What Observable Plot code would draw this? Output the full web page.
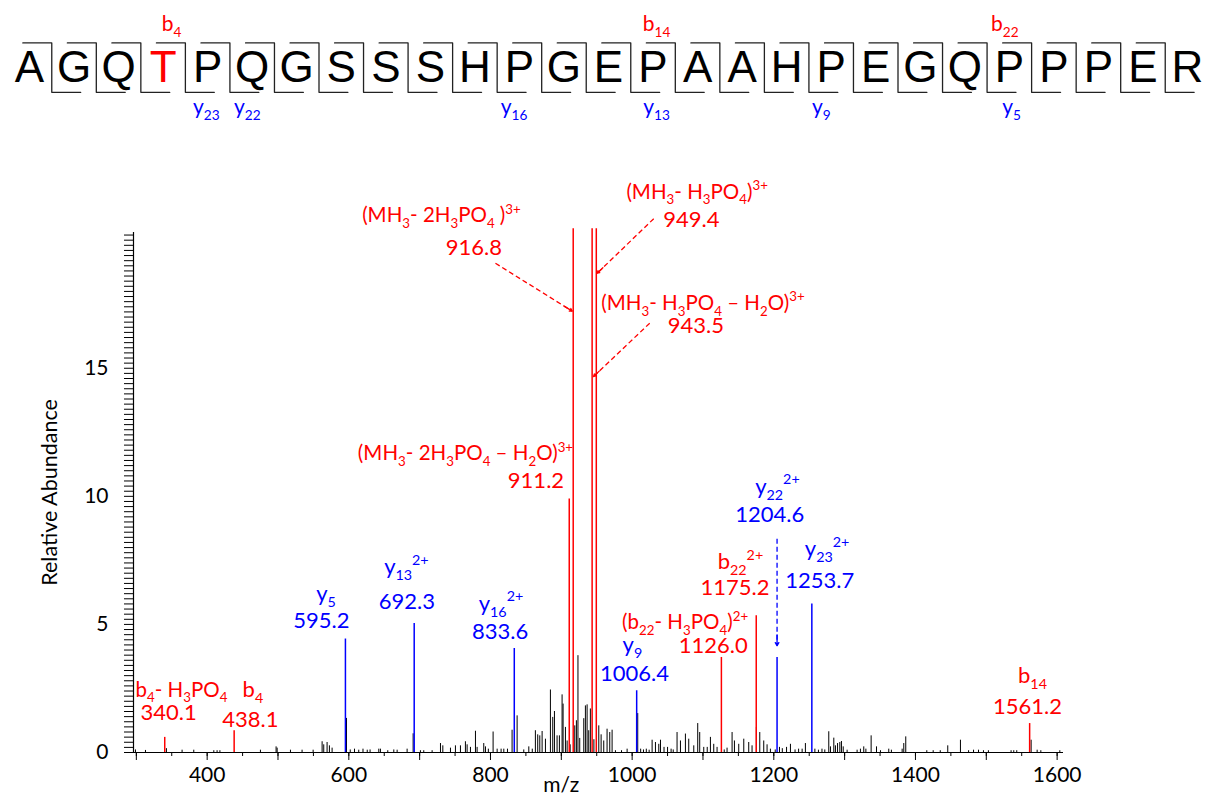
<!DOCTYPE html>
<html><head><meta charset="utf-8">
<script src="https://cdn.jsdelivr.net/npm/d3@7"></script>
<script src="https://cdn.jsdelivr.net/npm/@observablehq/plot@0.6"></script>
<style>
body{margin:0;background:#fff;}
#chart{width:1205px;height:797px;overflow:hidden;background:#fff}
#chart svg{display:block;overflow:visible}
</style>
</head><body><div id="chart"></div>
<script>
// ---------- sequence ----------
const residues = "AGQTPQGSSSHPGEPAAHPEGQPPPER".split("");
const phosphoSite = 4;
const bFragLabels = ["b_{4}", "b_{14}", "b_{22}"];
const bFragPos = [4.19, 15.08, 22.9];
const yFragLabels = ["y_{23}", "y_{22}", "y_{16}", "y_{13}", "y_{9}", "y_{5}"];
const yFragPos = [4.97, 5.89, 11.88, 15.08, 18.78, 23.05];

// ---------- assigned fragment ions (m/z, relative abundance, series) ----------
const ionMz    = [340.1, 438.1, 595.2, 692.3, 833.6, 911.2, 916.8, 943.5, 949.4, 1006.4, 1126.0, 1175.2, 1204.6, 1253.7, 1561.2];
const ionAbund = [0.59, 0.85, 4.43, 5.04, 4.06, 9.9, 20.45, 20.45, 20.45, 2.41, 3.71, 5.34, 3.71, 5.8, 1.13];
const ionKind  = ["b","b","y","y","y","b","b","b","b","y","b","b","y","y","b"];

// ---------- unassigned peaks ----------
const noiseMz = [298.8,312.9,342.5,364.6,381.1,409.4,414,418,475.2,497.3,498.8,517.6,534,549.6,562.3,564.6,569.3,572.6,576.4,596.7,602,608,614,620,626,630,642.3,644.6,655,663.5,668.2,682.3,690.8,701.1,705.8,717.6,729.4,732.7,743.5,750.5,757.6,764.6,767,771.7,778.8,781.1,790.5,792.9,797,803.7,809.4,815,818.8,824,830.5,833.9,837.6,847,854.1,859,863.4,866.7,869.6,872.9,877.6,884.6,887.9,890.3,894,897.3,901.1,902.5,905.8,908.2,912.5,919,921.3,923.5,926,931.7,934,936.4,938.7,941,946,952.9,956.2,959.9,964.6,968.4,971.7,976.4,985,992.9,1007.9,1012,1016,1020,1024,1028.2,1032.9,1037.6,1040,1045,1050,1055,1058,1063.4,1068.2,1075.2,1079.9,1087,1092.6,1095.4,1101.1,1106,1110.5,1115.2,1119.9,1130,1134,1141.1,1144.4,1150.5,1157.6,1164.6,1169.3,1175.4,1180.2,1185.8,1190.5,1195.2,1202,1208,1212,1218,1223.5,1230,1235,1240,1244.6,1258,1263,1268,1272,1277.6,1280,1284.7,1287,1290,1293.2,1295.5,1298,1303.5,1317.6,1322.3,1327,1330,1337.4,1345,1350.6,1362.3,1366,1381.2,1383.5,1386.3,1416,1425,1435,1445.6,1463.5,1475,1482,1489,1496,1503,1535,1538.8,1543,1563.3,1571.8,1577,1603.8];
const noiseAbund = [0.1,0.08,0.15,0.09,0.09,0.07,0.07,0.07,0.09,0.22,0.17,0.09,0.09,0.09,0.42,0.3,0.39,0.26,0.17,1.33,0.1,0.13,0.09,0.13,0.09,0.1,0.13,0.13,0.07,0.1,0.09,0.13,0.73,0.07,0.07,0.07,0.35,0.26,0.17,0.26,0.26,0.42,0.3,0.2,0.83,0.2,0.35,0.22,0.13,0.8,0.13,0.13,0.13,0.13,0.87,2.05,1.43,0.1,0.22,0.13,0.85,0.69,0.65,0.82,0.52,2.44,1.37,1.6,0.65,0.65,2.25,1.89,0.98,0.45,0.3,1.04,1.24,3.78,0.55,1.32,1.82,1.86,0.85,1.7,0.5,1.04,0.69,0.45,0.91,0.78,0.87,0.07,0.07,0.13,1.52,0.13,0.1,0.13,0.09,0.48,0.39,0.32,0.48,0.2,0.2,0.13,0.1,0.78,0.45,0.72,0.52,0.26,1.13,0.78,0.2,0.2,0.59,0.32,0.2,0.1,0.17,0.78,0.45,0.32,0.52,0.39,0.26,0.98,0.78,0.45,0.3,0.13,0.1,0.2,0.15,0.2,0.32,0.1,0.13,0.13,0.35,0.13,0.09,0.13,0.1,0.81,0.22,0.56,0.26,0.35,0.39,0.43,0.22,0.09,0.09,0.13,0.22,0.13,0.65,0.22,0.07,0.13,0.09,0.13,0.35,0.61,0.07,0.07,0.07,0.26,0.48,0.07,0.09,0.09,0.07,0.07,0.07,0.07,0.07,0.48,0.09,0.07,0.07];

// ---------- peak annotations (anchor in m/z, abundance units) ----------
const annotText = [
  "(MH_{3}- 2H_{3}PO_{4} )^{3+}", "916.8",
  "(MH_{3}- H_{3}PO_{4})^{3+}", "949.4",
  "(MH_{3}- H_{3}PO_{4} – H_{2}O)^{3+}", "943.5",
  "(MH_{3}- 2H_{3}PO_{4} – H_{2}O)^{3+}", "911.2",
  "y_{22}^{2+}", "1204.6",
  "b_{22}^{2+}", "1175.2",
  "y_{23}^{2+}", "1253.7",
  "(b_{22}- H_{3}PO_{4})^{2+}", "1126.0",
  "y_{9}", "1006.4",
  "y_{5}", "595.2",
  "y_{13}^{2+}", "692.3",
  "y_{16}^{2+}", "833.6",
  "b_{4}- H_{3}PO_{4}", "340.1",
  "b_{4}", "438.1",
  "b_{14}", "1561.2"
];
const annotMz = [730.8,776.6,1091.8,1083.7,1100,1090,764.7,864.2,1205.1,1194.3,1152.9,1145.1,1275.3,1264.9,1074.8,1114.4,1000.4,1003.2,567.7,561.3,681.3,681.8,814.8,813.6,363.7,345.7,464.6,461.1,1565.2,1558.1];
const annotAbund = [20.96,19.70,21.875,20.8,17.54,16.64,11.66,10.61,10.38,9.29,7.44,6.41,7.95,6.71,5.06,4.17,4.2,3.06,6.2,5.13,7.24,5.86,5.81,4.69,2.44,1.55,2.44,1.27,3.0,1.79];
const annotKind = ["b","b","b","b","b","b","b","b","y","y","b","b","y","y","b","b","y","y","y","y","y","y","y","y","b","b","b","b","b","b"];

// ---------- dashed pointer arrows ----------
const arrowFromMz = [807.0, 1030.5, 1024.8, 1204.6];
const arrowFromAbund = [19.10, 20.84, 16.76, 8.34];
const arrowToMz = [915.4, 950.7, 945.6, 1204.6];
const arrowToAbund = [17.23, 18.71, 14.68, 4.17];
const arrowKind = ["b","b","b","y"];

// ---------- axes ----------
const xTickLabels = [400, 600, 800, 1000, 1200, 1400, 1600];
const yTickLabels = [0, 5, 10, 15];

const RED = "#ff0000", BLUE = "#0000ff";
const kindColor = k => k === "y" ? BLUE : RED;

function richify(root) {
  root.querySelectorAll("text").forEach(t => {
    const s = t.textContent;
    if (!/[_^]\{/.test(s)) return;
    const re = /([_^])\{([^}]*)\}/g;
    const segs = []; let last = 0, m;
    while ((m = re.exec(s))) {
      if (m.index > last) segs.push({t: s.slice(last, m.index), k: ""});
      segs.push({t: m[2], k: m[1]});
      last = re.lastIndex;
    }
    if (last < s.length) segs.push({t: s.slice(last), k: ""});
    while (t.firstChild) t.removeChild(t.firstChild);
    let cur = 0;
    for (const sg of segs) {
      const f = sg.k ? 0.65 : 1;
      const o = sg.k === "_" ? 0.28 : sg.k === "^" ? -0.42 : 0;
      const ts = document.createElementNS("http://www.w3.org/2000/svg", "tspan");
      if (f !== 1) ts.setAttribute("font-size", "65%");
      if (o !== cur) ts.setAttribute("dy", ((o - cur) / f).toFixed(3) + "em");
      ts.textContent = sg.t;
      t.appendChild(ts);
      cur = o;
    }
  });
}

// ===== sequence panel =====
const resData = residues.map((r, i) => ({r, i: i + 1}));
const bracketPts = [];
for (let k = 1; k < residues.length; k++) {
  const g = k + 0.5;
  bracketPts.push({k, x: g - 0.65, y: 0.52}, {k, x: g, y: 0.52}, {k, x: g, y: -0.62}, {k, x: g + 0.65, y: -0.62});
}
const seqPlot = Plot.plot({
  width: 1205, height: 130,
  marginLeft: 29, marginRight: 18, marginTop: 0, marginBottom: 0,
  x: {domain: [1, 27], axis: null},
  y: {domain: [-1.5, 1.5], axis: null},
  style: {fontFamily: "Lato", background: "#fff"},
  marks: [
    Plot.line(bracketPts, {x: "x", y: "y", z: "k", stroke: "#222", strokeWidth: 1.3, curve: "linear"}),
    Plot.text(resData, {x: "i", y: () => 0, text: "r", fontSize: 44, dy: 2, fontFamily: "Liberation Sans, Arial, sans-serif",
      fill: d => d.i === phosphoSite ? RED : "#000"}),
    Plot.text(bFragLabels, {x: (d, i) => bFragPos[i], y: () => 0.955, text: d => d, fill: RED, fontSize: 21}),
    Plot.text(yFragLabels, {x: (d, i) => yFragPos[i], y: () => -0.96, text: d => d, fill: BLUE, fontSize: 21})
  ]
});

// ===== spectrum panel =====
const noise = noiseMz.map((mz, i) => ({mz, a: noiseAbund[i]}));
const ions = ionMz.map((mz, i) => ({mz, a: ionAbund[i], k: ionKind[i]}));
const annots = annotText.map((t, i) => ({t, mz: annotMz[i], a: annotAbund[i], k: annotKind[i]}));
const arrows = arrowFromMz.map((x1, i) => ({x1, y1: arrowFromAbund[i], x2: arrowToMz[i], y2: arrowToAbund[i], k: arrowKind[i]}));
const heads = arrows.map(d => ({x1: d.x1 + (d.x2 - d.x1) * 0.9, y1: d.y1 + (d.y2 - d.y1) * 0.9, x2: d.x2, y2: d.y2, k: d.k}));
const xDom = [296, 1609], yDom = [0, 20.3];
const isFormula = s => /[()]|- /.test(s);

const specPlot = Plot.plot({
  width: 1205, height: 667,
  marginLeft: 133, marginRight: 142, marginTop: 102, marginBottom: 45,
  x: {domain: xDom},
  y: {domain: yDom},
  style: {fontFamily: "Lato", fontSize: "21px", background: "#fff", color: "#000"},
  marks: [
    Plot.ruleX(noise, {x: "mz", y1: 0, y2: "a", stroke: "#000", strokeWidth: 1}),
    Plot.ruleX(ions, {x: "mz", y1: 0, y2: "a", stroke: d => kindColor(d.k), strokeWidth: 1.5}),
    Plot.link(arrows, {x1: "x1", y1: "y1", x2: "x2", y2: "y2", stroke: d => kindColor(d.k), strokeWidth: 1.3, strokeDasharray: "5,3"}),
    Plot.arrow(heads, {x1: "x1", y1: "y1", x2: "x2", y2: "y2", stroke: d => kindColor(d.k), strokeWidth: 1.3, headLength: 10}),
    Plot.text(annots.filter(d => isFormula(d.t)), {x: "mz", y: "a", text: "t", fill: d => kindColor(d.k), fontSize: 20.5}),
    Plot.text(annots.filter(d => !isFormula(d.t)), {x: "mz", y: "a", text: "t", fill: d => kindColor(d.k), fontSize: 22}),
    // axes
    Plot.ruleY([0], {stroke: "#000", strokeWidth: 1.2}),
    Plot.ruleX([xDom[0]], {y1: yDom[0], y2: yDom[1], stroke: "#000", strokeWidth: 1.2}),
    Plot.axisX({ticks: d3.range(300, 1601, 50), tickSize: 4, fill: "none", label: null}),
    Plot.axisX({ticks: d3.range(300, 1601, 100), tickSize: 8, fill: "none", label: null}),
    Plot.axisX({ticks: xTickLabels, tickSize: 0, tickPadding: 15, fontSize: 21, tickFormat: d => String(d), label: null}),
    Plot.axisY({ticks: d3.range(0, 20.3, 0.2), tickSize: 9, fill: "none", label: null}),
    Plot.axisY({ticks: yTickLabels, tickSize: 0, tickPadding: 25, fontSize: 21, tickFormat: d => String(d), label: null}),
    Plot.text(["Relative Abundance"], {frameAnchor: "left", textAnchor: "middle", lineAnchor: "middle", dx: -83, rotate: -90, fontSize: 21.5, fill: "#000"}),
    Plot.text(["m/z"], {x: () => 900, frameAnchor: "bottom", lineAnchor: "middle", dy: 33, fontSize: 21, fill: "#000"})
  ]
});

richify(seqPlot);
richify(specPlot);
const host = document.getElementById("chart");
host.appendChild(seqPlot);
host.appendChild(specPlot);
</script>
</body></html>
